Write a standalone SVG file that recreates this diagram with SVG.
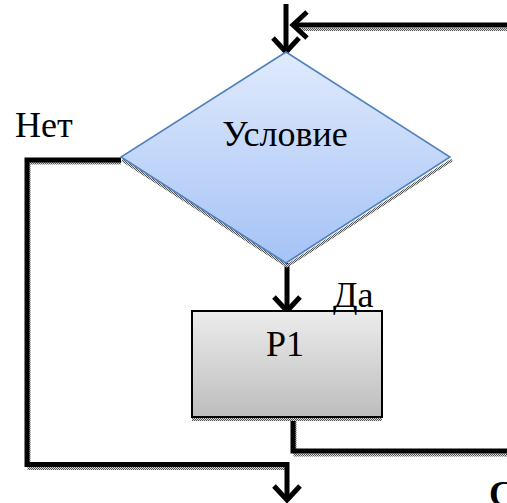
<svg xmlns="http://www.w3.org/2000/svg" width="507" height="503" viewBox="0 0 507 503">
<defs>
<linearGradient id="gDia" x1="0" y1="0" x2="0" y2="1"><stop offset="0" stop-color="#e0eafc"/><stop offset="1" stop-color="#a5c3f6"/></linearGradient>
<linearGradient id="gRect" x1="0" y1="0" x2="0" y2="1"><stop offset="0" stop-color="#ececec"/><stop offset="1" stop-color="#bdbdbd"/></linearGradient>
<pattern id="dots" width="2" height="2" patternUnits="userSpaceOnUse"><rect width="2" height="2" fill="#d8d8d8"/><rect width="1" height="1" fill="#555"/><rect x="1" y="1" width="1" height="1" fill="#555"/></pattern>
<marker id="arr" viewBox="0 0 20 30" refX="16" refY="15" markerWidth="20" markerHeight="30" markerUnits="userSpaceOnUse" orient="auto"><path d="M2,2 L16,15 L2,28" fill="none" stroke="#000" stroke-width="5" stroke-linejoin="miter"/></marker>
</defs>
<style>
.ln{fill:none;stroke:#000;stroke-width:5}
.sh{fill:none;stroke:url(#dots);stroke-width:3}
</style>
<g id="connectors">
<g id="shadows">
<path class="sh" d="M300,29.5 H507"/>
<path class="sh" d="M29,163 H121 M29,163 V468.5 H289"/>
<path class="sh" d="M295,419 V455 H507"/>
</g>
<path class="ln" d="M286,4 V52" marker-end="url(#arr)"/>
<path class="ln" d="M507,25 H293" marker-end="url(#arr)"/>
<path class="ln" d="M287,263 V311" marker-end="url(#arr)"/>
<path class="ln" d="M121,160 H27 V464.5 H287 V500" marker-end="url(#arr)"/>
<path class="ln" d="M293,417 V451 H507"/>
</g>
<g id="condition">
<polyline points="122,160 287,266 452,160" fill="none" stroke="url(#dots)" stroke-width="3"/>
<polygon points="286,52 121,157 286,263 450,157" fill="url(#gDia)" stroke="#4f81bd" stroke-width="1.5"/>
<text x="285" y="146" text-anchor="middle" font-family="Liberation Serif" font-size="36" fill="#000">Условие</text>
</g>
<g id="p1">
<rect x="192" y="417" width="190" height="4" fill="url(#dots)"/>
<rect x="192" y="311" width="190" height="106" fill="url(#gRect)" stroke="#000" stroke-width="2"/>
<text x="285" y="356" text-anchor="middle" font-family="Liberation Serif" font-size="36" fill="#000">P1</text>
</g>
<g id="labels">
<text x="15" y="137" font-family="Liberation Serif" font-size="36" fill="#000">Нет</text>
<text x="333" y="307" font-family="Liberation Serif" font-size="36" fill="#000">Да</text>
<text x="489" y="506" font-family="Liberation Serif" font-size="36" font-weight="bold" fill="#000">С</text>
</g>
</svg>
